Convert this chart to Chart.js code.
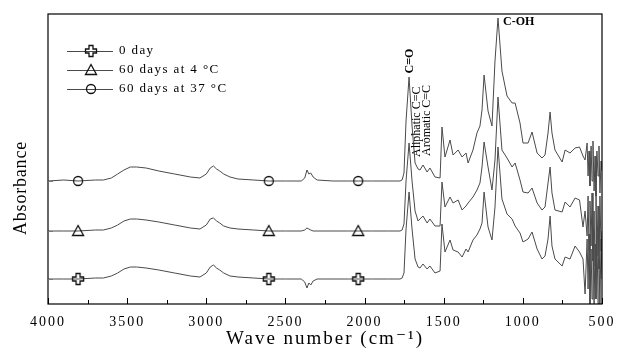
<!DOCTYPE html>
<html>
<head>
<meta charset="utf-8">
<script src="https://cdn.jsdelivr.net/npm/chart.js@4.4.0/dist/chart.umd.min.js"></script>
<style>
  html, body { margin: 0; padding: 0; background: #fff; }
  canvas { display: block; }
</style>
</head>
<body>
<canvas id="ftir" width="629" height="351"></canvas>
<script>
// wave numbers (cm-1) shared by all three spectra
const wavenumbers = [
    4000, 3900, 3810, 3700, 3650, 3600, 3560, 3520, 3480, 3440, 3380, 3300, 3200, 3100, 3040,
    3000, 2975, 2955, 2935, 2915, 2890, 2850, 2800, 2700, 2605, 2500, 2400, 2378, 2364, 2352,
    2340, 2325, 2300, 2200, 2100, 2040, 1950, 1850, 1776,
    1763, 1751, 1738, 1719, 1700, 1681, 1662, 1650, 1631, 1605, 1587, 1555, 1523, 1511, 1492,
    1460, 1441, 1409, 1384, 1359, 1346, 1315, 1290, 1271, 1258, 1245, 1220, 1195, 1176, 1157,
    1132, 1100, 1068, 1049, 1018, 999, 967, 942, 910, 879, 860, 841, 828, 816, 797,
    752, 733, 702, 670, 642, 620, 607, 594, 588, 582, 576, 569, 563, 557, 550,
    544, 538, 532, 525, 519, 513, 506, 500
];

// absorbance (a.u., spectra offset for clarity)
const day0 = [
    25, 25, 25, 26, 26, 28, 31, 35, 37, 37, 36, 34, 31, 28, 27,
    31, 37, 39, 36, 34, 31, 28, 27, 26, 25, 25, 25, 22, 16, 21,
    19, 23, 25, 25, 25, 25, 25, 25, 25,
    26, 31, 75, 112, 75, 45, 37, 36, 40, 35, 38, 31, 33, 80, 52,
    64, 54, 52, 47, 55, 52, 64, 69, 75, 81, 112, 77, 64, 97, 157,
    105, 90, 85, 78, 71, 62, 65, 72, 55, 45, 48, 65, 88, 58, 45,
    38, 47, 45, 58, 52, 45, 10, 65, 15, 70, 0, 55, 5, 75, 0,
    60, 5, 70, 0, 45, 0, 65, 25
];
const days60At4C = [
    73, 73, 73, 74, 74, 76, 79, 83, 85, 85, 84, 82, 79, 76, 75,
    79, 85, 86, 83, 81, 78, 76, 75, 74, 73, 73, 73, 74, 76, 75,
    74, 73, 73, 73, 73, 73, 73, 73, 73,
    74, 80, 123, 161, 123, 93, 83, 85, 88, 81, 85, 78, 78, 122, 97,
    107, 101, 104, 94, 98, 101, 107, 114, 121, 137, 162, 137, 114, 144, 207,
    154, 146, 137, 141, 124, 112, 111, 116, 101, 94, 97, 121, 137, 111, 94,
    92, 102, 97, 106, 104, 77, 93, 68, 108, 53, 103, 58, 111, 43, 93,
    38, 113, 48, 98, 35, 108, 53, 73
];
const days60At37C = [
    123, 124, 123, 124, 124, 126, 130, 134, 137, 137, 136, 133, 130, 127, 126,
    130, 136, 138, 135, 133, 130, 127, 125, 124, 123, 123, 123, 126, 134, 130,
    131, 127, 124, 123, 123, 123, 123, 123, 123,
    124, 131, 183, 227, 178, 141, 135, 134, 139, 132, 136, 127, 126, 177, 147,
    164, 149, 154, 147, 151, 141, 154, 171, 178, 194, 229, 193, 178, 243, 286,
    233, 208, 201, 201, 181, 161, 161, 172, 151, 146, 149, 171, 192, 171, 154,
    142, 154, 151, 156, 157, 148, 144, 161, 128, 153, 118, 158, 123, 163, 113,
    148, 108, 153, 128, 158, 111, 143, 133
];

const seriesNames = ['0 day', '60 days at 4 \u00b0C', '60 days at 37 \u00b0C'];
const markerWaves = [3810, 2605, 2040];
const xMajorTicks = [4000, 3500, 3000, 2500, 2000, 1500, 1000, 500];
const xMinorTicks = [3750, 3250, 2750, 2250, 1750, 1250, 750];
const baselineTicks = [25, 73, 123];

const SERIF = "'Liberation Serif', 'DejaVu Serif', serif";

function makeMarker(kind) {
    const c = document.createElement('canvas');
    c.width = 14;
    c.height = 14;
    const g = c.getContext('2d');
    g.strokeStyle = '#111';
    g.lineWidth = 1.3;
    g.beginPath();
    if (kind === 'circle') {
        g.arc(7, 7, 4.5, 0, Math.PI * 2);
    } else if (kind === 'triangle') {
        g.moveTo(7, 1.5);
        g.lineTo(12.5, 11.5);
        g.lineTo(1.5, 11.5);
        g.closePath();
    } else {
        // fat open plus used for the 0 day trace
        g.moveTo(5, 1.5); g.lineTo(9, 1.5); g.lineTo(9, 5); g.lineTo(12.5, 5);
        g.lineTo(12.5, 9); g.lineTo(9, 9); g.lineTo(9, 12.5); g.lineTo(5, 12.5);
        g.lineTo(5, 9); g.lineTo(1.5, 9); g.lineTo(1.5, 5); g.lineTo(5, 5);
        g.closePath();
    }
    g.stroke();
    return c;
}

const markers = [makeMarker('plus'), makeMarker('triangle'), makeMarker('circle')];
const seriesValues = [day0, days60At4C, days60At37C];

const datasets = seriesValues.map((vals, i) => ({
    label: seriesNames[i],
    data: wavenumbers.map((w, j) => ({ x: w, y: vals[j] })),
    borderColor: '#4a4a4a',
    borderWidth: 1,
    pointStyle: markers[i],
    pointRadius: ctx => (ctx.raw && markerWaves.includes(ctx.raw.x)) ? 5 : 0,
    tension: 0
}));

// frame, inward ticks, y title, legend and peak labels
const decorPlugin = {
    id: 'decor',
    beforeDraw(chart) {
        chart.ctx.letterSpacing = '2px';
    },
    afterDraw(chart) {
        const ctx = chart.ctx;
        const area = chart.chartArea;
        const xs = chart.scales.x;
        const ys = chart.scales.y;
        ctx.save();
        ctx.letterSpacing = '0px';
        ctx.strokeStyle = '#000';
        ctx.lineWidth = 1.2;
        ctx.strokeRect(area.left, area.top, area.right - area.left, area.bottom - area.top);

        ctx.lineWidth = 1;
        ctx.beginPath();
        xMajorTicks.forEach(w => {
            const px = Math.round(xs.getPixelForValue(w)) + 0.5;
            ctx.moveTo(px, area.bottom);
            ctx.lineTo(px, area.bottom - 6);
        });
        xMinorTicks.forEach(w => {
            const px = Math.round(xs.getPixelForValue(w)) + 0.5;
            ctx.moveTo(px, area.bottom);
            ctx.lineTo(px, area.bottom - 4);
        });
        ctx.stroke();

        ctx.strokeStyle = '#777';
        ctx.beginPath();
        baselineTicks.forEach(v => {
            const py = Math.round(ys.getPixelForValue(v)) + 0.5;
            ctx.moveTo(area.left, py);
            ctx.lineTo(area.left + 5, py);
        });
        ctx.stroke();

        // y axis title, centred a little below the middle as in the original
        ctx.save();
        ctx.translate(21, 188);
        ctx.rotate(-Math.PI / 2);
        ctx.fillStyle = '#000';
        ctx.font = '18px ' + SERIF;
        ctx.letterSpacing = '0.8px';
        ctx.textAlign = 'center';
        ctx.textBaseline = 'middle';
        ctx.fillText('Absorbance', 0, 0);
        ctx.restore();

        // legend
        const rows = [51, 70, 89];
        chart.data.datasets.forEach((ds, i) => {
            const y = rows[i];
            ctx.strokeStyle = '#4a4a4a';
            ctx.lineWidth = 1;
            ctx.beginPath();
            ctx.moveTo(67, y + 0.5);
            ctx.lineTo(113, y + 0.5);
            ctx.stroke();
            const m = ds.pointStyle;
            ctx.drawImage(m, 91 - m.width / 2, y - m.height / 2);
            ctx.fillStyle = '#000';
            ctx.font = '13px ' + SERIF;
            ctx.letterSpacing = '1.4px';
            ctx.textAlign = 'left';
            ctx.textBaseline = 'middle';
            ctx.fillText(ds.label, 119, y);
        });

        // peak assignments
        const rotated = (text, w, v, align) => {
            ctx.save();
            ctx.translate(xs.getPixelForValue(w), ys.getPixelForValue(v));
            ctx.rotate(-Math.PI / 2);
            ctx.textAlign = align;
            ctx.textBaseline = 'middle';
            ctx.fillText(text, 0, 0);
            ctx.restore();
        };
        ctx.fillStyle = '#000';
        ctx.letterSpacing = '0px';
        ctx.font = 'bold 12px ' + SERIF;
        rotated('C=O', 1713, 243, 'center');
        ctx.font = '12px ' + SERIF;
        rotated('Aliphatic C=C', 1669, 147, 'left');
        rotated('Aromatic C=C', 1605, 148, 'left');
        ctx.font = 'bold 12px ' + SERIF;
        ctx.textAlign = 'left';
        ctx.textBaseline = 'middle';
        ctx.fillText('C-OH', xs.getPixelForValue(1125), ys.getPixelForValue(282));
        ctx.restore();
    }
};

new Chart(document.getElementById('ftir'), {
    type: 'line',
    data: { datasets },
    options: {
        responsive: false,
        animation: false,
        devicePixelRatio: 1,
        layout: { padding: { top: 14, right: 27, left: 0, bottom: 0 } },
        plugins: {
            legend: { display: false },
            tooltip: { enabled: false }
        },
        scales: {
            x: {
                type: 'linear',
                reverse: true,
                min: 500,
                max: 4000,
                grid: { display: false, drawTicks: false },
                border: { display: false },
                afterBuildTicks: scale => {
                    scale.ticks = xMajorTicks.map(v => ({ value: v }));
                },
                afterFit: scale => { scale.height = 47; },
                ticks: {
                    color: '#000',
                    padding: 10,
                    maxRotation: 0,
                    autoSkip: false,
                    callback: v => String(v),
                    font: { family: SERIF, size: 14 }
                },
                title: {
                    display: true,
                    text: 'Wave number (cm\u207b\u00b9)',
                    color: '#000',
                    padding: { top: 0, bottom: 1 },
                    font: { family: SERIF, size: 19 }
                }
            },
            y: {
                min: 0,
                max: 290,
                grid: { display: false, drawTicks: false },
                border: { display: false },
                ticks: { display: false },
                afterFit: scale => { scale.width = 48; },
                title: { display: false }
            }
        }
    },
    plugins: [decorPlugin]
});
</script>
</body>
</html>
